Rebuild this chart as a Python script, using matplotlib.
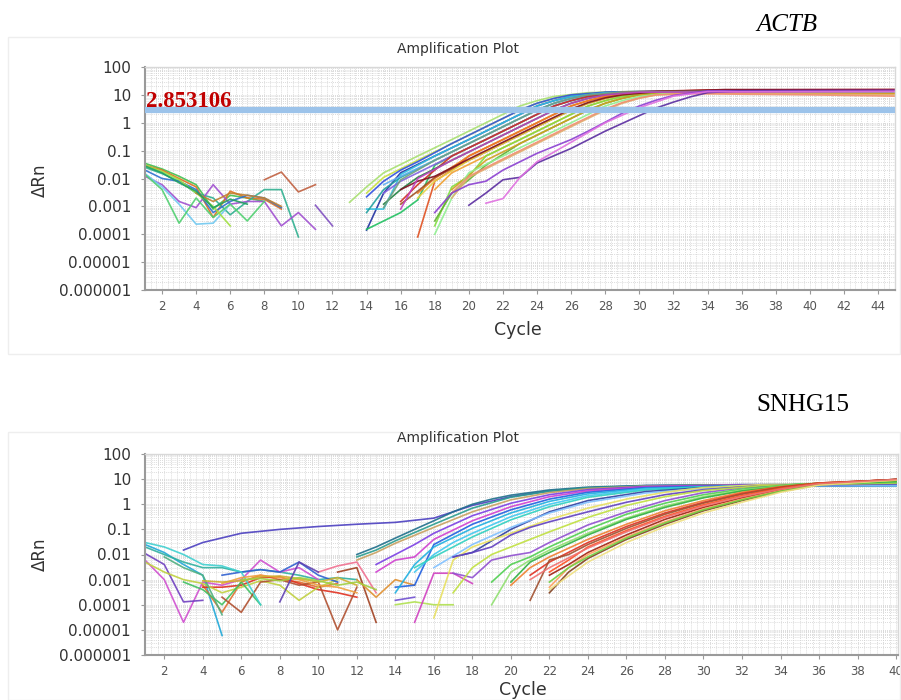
import matplotlib
matplotlib.use('Agg')
import matplotlib.pyplot as plt
from matplotlib.ticker import FixedLocator, NullFormatter
from matplotlib.patches import Rectangle
import numpy as np

# ---- data ----
y_ticks = [1e-6, 1e-5, 1e-4, 1e-3, 1e-2, 1e-1, 1, 10, 100]
y_tick_labels = ['0.000001', '0.00001', '0.0001', '0.001', '0.01', '0.1', '1', '10', '100']
actb_x_ticks = list(range(2, 46, 2))
snhg_x_ticks = list(range(2, 41, 2))
actb_threshold = 2.853106

# ACTB: rising curves, (cycle, dRn) points
actb_growth = [
    [(13, .0014), (14, .005), (15, .016), (17, .064), (19, .25), (21, 1.0), (23, 4), (24, 6.2), (25, 8.8), (27, 12), (30, 13.5), (45, 14)],
    [(14, .003), (15, .011), (17, .045), (19, .18), (21, .72), (23, 2.85), (24, 5), (25, 7.5), (26, 10), (28, 12.5), (32, 13.5), (45, 13)],
    [(14, .0022), (15, .008), (16, .02), (17, .04), (19, .18), (21, .72), (23, 2.85), (24, 5), (25, 7.5), (26, 10), (28, 12.5), (32, 14), (45, 14)],
    [(14, .00014), (15, .003), (16, .016), (18, .064), (20, .25), (22, 1.0), (24, 4), (25, 6.2), (26, 8.8), (28, 12), (32, 13.5), (45, 13.5)],
    [(14, .0008), (15, .0008), (16, .014), (18, .064), (20, .25), (22, 1.0), (24, 4), (25, 6.2), (26, 8.8), (28, 12), (32, 13), (45, 13)],
    [(14, .0006), (15, .004), (16, .011), (18, .045), (20, .18), (22, .72), (24, 2.85), (25, 5), (26, 7.5), (27, 10), (29, 12.5), (33, 13.5), (45, 13)],
    [(15, .006), (16, .012), (18, .045), (20, .18), (22, .72), (24, 2.85), (25, 5), (26, 7.5), (27, 10), (29, 12.5), (33, 13), (45, 12.5)],
    [(14, .00015), (16, .0006), (17, .0017), (18, .03), (19, .064), (21, .25), (23, 1.0), (25, 4), (26, 6.2), (27, 8.8), (29, 12), (33, 13.5), (45, 13.5)],
    [(15, .003), (16, .008), (17, .016), (19, .064), (21, .25), (23, 1.0), (25, 4), (26, 6.2), (27, 8.8), (29, 12), (33, 13), (45, 13)],
    [(16, .0015), (17, .006), (18, .02), (19, .064), (21, .25), (23, 1.0), (25, 4), (26, 6.2), (27, 8.8), (29, 12.5), (34, 15), (45, 15.5)],
    [(15, .0012), (16, .004), (17, .011), (19, .045), (21, .18), (23, .72), (25, 2.85), (26, 5), (27, 7.5), (28, 10), (30, 12.5), (34, 14), (45, 14)],
    [(17, .00008), (18, .008), (19, .02), (20, .064), (22, .25), (24, 1.0), (26, 4), (27, 6.2), (28, 8.8), (30, 12), (34, 14), (45, 14.5)],
    [(17, .003), (18, .01), (20, .064), (22, .25), (24, 1.0), (26, 4), (27, 6.2), (28, 8.8), (30, 12), (34, 13), (45, 12.5)],
    [(16, .0012), (17, .0035), (18, .011), (20, .045), (22, .18), (24, .72), (26, 2.85), (27, 5), (28, 7.5), (29, 10), (31, 12.5), (35, 14), (45, 14)],
    [(17, .002), (18, .008), (20, .045), (22, .18), (24, .72), (26, 2.85), (27, 5), (28, 7.5), (29, 10), (31, 12), (35, 12), (45, 11.5)],
    [(18, .004), (19, .016), (21, .064), (23, .25), (25, 1.0), (27, 4), (28, 6.2), (29, 8.8), (31, 11.5), (35, 12), (45, 11)],
    [(18, .0002), (19, .005), (20, .012), (21, .064), (23, .25), (25, 1.0), (27, 4), (28, 6.2), (29, 8.8), (31, 12), (35, 13), (45, 13)],
    [(18, .0003), (19, .003), (20, .009), (21, .03), (23, .18), (25, .72), (27, 2.85), (28, 5), (29, 7.5), (30, 10), (32, 12.5), (36, 13.5), (45, 13.5)],
    [(19, .004), (21, .045), (23, .18), (25, .72), (27, 2.85), (28, 5), (29, 7.5), (30, 10), (32, 12), (36, 12), (45, 11)],
    [(18, .0001), (19, .002), (20, .016), (22, .064), (24, .25), (26, 1.0), (28, 4), (29, 6.2), (30, 8.8), (32, 12), (36, 13), (45, 12.5)],
    [(19, .002), (20, .011), (22, .045), (24, .18), (26, .72), (28, 2.85), (29, 5), (30, 7.5), (31, 10), (33, 11.5), (38, 11), (45, 10)],
    [(19, .003), (20, .012), (22, .05), (24, .2), (26, .8), (28, 3.1), (29, 5.3), (30, 7.8), (31, 10), (33, 11), (40, 10), (45, 9)],
    [(16, .004), (17, .008), (18, .012), (20, .05), (22, .2), (24, .8), (26, 3.1), (27, 5.3), (28, 7.8), (29, 10), (31, 13), (35, 15.5), (45, 15.5)],
    [(15, .0009), (16, .009), (18, .045), (20, .18), (22, .72), (24, 2.85), (25, 5), (26, 7.5), (27, 10), (29, 12.5), (34, 13.5), (45, 13.5)],
    [(16, .0008), (17, .01), (19, .045), (21, .18), (23, .72), (25, 2.85), (26, 5), (27, 7.5), (28, 10), (30, 12.5), (45, 13)],
    [(18, .0006), (19, .003), (20, .006), (21, .008), (22, .02), (24, .08), (26, .25), (27, .5), (29, 2.2), (30, 4), (31, 6.5), (32, 9.5), (34, 14), (45, 14.5)],
    [(20, .0011), (21, .003), (22, .009), (23, .011), (24, .036), (26, .12), (28, .5), (30, 1.8), (31, 3.4), (32, 5.5), (33, 8.5), (34, 12), (36, 14), (45, 14)],
    [(21, .0013), (22, .0019), (23, .011), (24, .04), (26, .2), (28, 1.0), (30, 3.5), (32, 9), (34, 13), (45, 13.5)],
]
actb_growth_colors = ['#a8e070', '#c8e040', '#3050e0', '#2030a0', '#30c0e0', '#20a0a0', '#60b0f0',
                      '#20c060', '#8060e0', '#d03020', '#208040', '#e05020', '#f08020', '#a05020',
                      '#e8d040', '#f0a030', '#80e040', '#60b030', '#d0a020', '#90f090', '#e0b070',
                      '#f09070', '#801020', '#70a080', '#c040c0', '#8a3fd1', '#5a2ca0', '#e070e0']

# ACTB: baseline fragments
actb_noise = [
    [(1, .035), (2, .022), (3, .012), (4, .006), (5, .0008), (6, .0025), (7, .002), (8, .0015)],
    [(1, .03), (2, .02), (3, .01), (4, .005), (5, .0004), (6, .0035), (7, .002), (8, .0018), (9, .0008)],
    [(1, .025), (2, .015), (3, .008), (4, .003), (5, .002), (6, .0005), (7, .0015), (8, .004), (9, .004), (10, .00008)],
    [(1, .012), (2, .006), (3, .0015), (4, .0009), (5, .006), (6, .0012), (7, .0015), (8, .0015), (9, .0002), (10, .0006), (11, .00015)],
    [(1, .015), (2, .005), (3, .0012), (4, .00023), (5, .00025), (6, .0012)],
    [(1, .014), (2, .004), (3, .00025), (4, .002), (5, .0004), (6, .0012), (7, .0003), (8, .0015)],
    [(8, .009), (9, .017), (10, .0033), (11, .006)],
    [(11, .0011), (12, .0002)],
    [(1, .02), (2, .01), (3, .008), (4, .004), (5, .0006), (6, .0015), (7, .0025), (8, .002), (9, .0009)],
    [(1, .03), (2, .018), (3, .009), (4, .003), (5, .001), (6, .0002)],
    [(4, .003), (5, .0015), (6, .003), (7, .0025), (8, .002), (9, .001)],
    [(1, .028), (2, .016), (3, .007), (4, .0035), (5, .0009), (6, .0018), (7, .0012)],
]
actb_noise_colors = ['#40c050', '#e07020', '#30b090', '#a050d0', '#70c8f0', '#50d070',
                     '#c06040', '#8050c0', '#3070d0', '#a0e040', '#c08030', '#20a060']

# SNHG15: rising curves
snhg_growth = [
    [(3, .015), (4, .03), (6, .07), (8, .1), (10, .13), (12, .16), (14, .19), (16, .28), (17, .5), (18, .9), (20, 2.0), (22, 3.4), (24, 4.5), (27, 5.5), (32, 6), (40, 6.2)],
    [(12, .01), (13, .02), (14, .045), (15, .1), (16, .22), (17, .5), (18, 1.0), (19, 1.6), (20, 2.3), (22, 3.7), (24, 4.8), (27, 5.6), (32, 6), (40, 6)],
    [(12, .008), (13, .015), (14, .035), (16, .16), (18, .7), (20, 1.9), (22, 3.3), (24, 4.5), (27, 5.4), (32, 5.8), (40, 5.8)],
    [(12, .006), (13, .012), (14, .028), (16, .12), (18, .5), (20, 1.5), (22, 2.9), (24, 4.2), (27, 5.3), (32, 5.9), (40, 6)],
    [(13, .004), (14, .01), (15, .025), (16, .07), (18, .35), (20, 1.1), (22, 2.4), (24, 3.8), (27, 5.1), (32, 5.8), (40, 6)],
    [(13, .002), (14, .006), (15, .008), (16, .04), (18, .22), (20, .8), (22, 2.0), (24, 3.4), (27, 4.9), (32, 5.7), (40, 5.9)],
    [(14, .0005), (15, .0006), (16, .025), (18, .16), (20, .6), (22, 1.6), (24, 3), (27, 4.6), (32, 5.6), (40, 5.8)],
    [(14, .0003), (15, .004), (16, .02), (18, .11), (20, .45), (22, 1.3), (24, 2.6), (27, 4.3), (32, 5.4), (40, 5.6)],
    [(15, .002), (16, .01), (17, .03), (18, .07), (20, .32), (22, 1.0), (24, 2.2), (27, 4), (32, 5.3), (40, 5.5)],
    [(15, .003), (16, .008), (18, .05), (20, .24), (22, .8), (24, 1.9), (27, 3.7), (30, 4.9), (34, 5.5), (40, 5.6)],
    [(17, .008), (18, .012), (19, .035), (20, .1), (22, .5), (24, 1.4), (27, 3.2), (30, 4.6), (34, 5.4), (40, 5.6)],
    [(16, .003), (18, .025), (20, .12), (22, .45), (24, 1.2), (27, 2.8), (30, 4.3), (34, 5.5), (40, 5.6)],
    [(16, .00003), (17, .006), (18, .02), (20, .07), (22, .25), (24, .7), (26, 1.6), (28, 3), (30, 4.6), (33, 6), (40, 6.8)],
    [(17, .0018), (18, .0012), (19, .006), (20, .009), (21, .012), (22, .03), (24, .15), (26, .5), (28, 1.4), (30, 2.9), (32, 4.5), (35, 6.2), (40, 7)],
    [(17, .008), (18, .012), (19, .02), (20, .06), (21, .12), (22, .2), (24, .5), (26, 1.2), (28, 2.4), (30, 3.8), (33, 5.5), (40, 6.5)],
    [(17, .0003), (18, .003), (19, .01), (20, .02), (22, .08), (24, .3), (26, .9), (28, 2), (30, 3.5), (33, 5.5), (40, 7)],
    [(19, .0008), (20, .004), (21, .008), (22, .02), (24, .1), (26, .4), (28, 1.1), (30, 2.4), (32, 4), (35, 6.5), (40, 7.5)],
    [(19, .0001), (20, .002), (21, .006), (22, .015), (24, .07), (26, .28), (28, .85), (30, 2), (32, 3.6), (35, 6.2), (40, 7.8)],
    [(20, .0008), (21, .005), (22, .012), (24, .06), (26, .25), (28, .75), (30, 1.8), (32, 3.4), (35, 6), (40, 8)],
    [(20, .0006), (21, .003), (22, .008), (24, .04), (26, .16), (28, .55), (30, 1.4), (32, 3), (34, 5), (36, 7), (40, 9)],
    [(21, .0015), (22, .005), (24, .03), (26, .13), (28, .45), (30, 1.2), (32, 2.7), (34, 4.8), (36, 7), (40, 9.5)],
    [(21, .00015), (22, .006), (23, .01), (24, .025), (26, .11), (28, .4), (30, 1.1), (32, 2.5), (34, 4.6), (36, 7), (40, 9.5)],
    [(22, .002), (23, .006), (24, .02), (26, .09), (28, .33), (30, .95), (32, 2.2), (34, 4.3), (36, 6.8), (40, 9.7)],
    [(22, .0015), (23, .004), (24, .012), (26, .06), (28, .25), (30, .75), (32, 1.8), (34, 3.8), (36, 6.5), (40, 9.8)],
    [(22, .0005), (23, .003), (24, .01), (26, .05), (28, .2), (30, .65), (32, 1.6), (34, 3.5), (36, 6.3), (40, 9.5)],
    [(22, .0003), (23, .002), (24, .007), (26, .04), (28, .16), (30, .55), (32, 1.4), (34, 3.2), (36, 6), (40, 9.8)],
    [(22, .0008), (23, .003), (24, .008), (26, .045), (28, .18), (30, .6), (32, 1.5), (34, 3.3), (36, 6), (40, 9)],
    [(22, .0004), (24, .005), (26, .03), (28, .13), (30, .45), (32, 1.2), (34, 3), (36, 5.8), (40, 9.2)],
    [(21, .001), (22, .003), (24, .018), (26, .08), (28, .3), (30, .85), (32, 2), (34, 4), (36, 6.6), (40, 9.6)],
]
snhg_growth_colors = ['#4b3fc0', '#1f6f8b', '#2a9d8f', '#c8a060', '#7b3fe4', '#d040d0', '#2060e0',
                      '#20b0e0', '#40c8f0', '#30d0c0', '#3040a0', '#80c0ff', '#e8e060', '#9050d0',
                      '#6040c0', '#c0e040', '#50d050', '#90e070', '#30b040', '#f08030', '#e03020',
                      '#a05030', '#ff5020', '#a02010', '#ffa060', '#804020', '#70d040', '#f0e080',
                      '#f07070']

# SNHG15: baseline fragments
snhg_noise = [
    [(1, .025), (2, .012), (3, .004), (4, .0015), (5, .000006)],
    [(1, .02), (2, .01), (3, .005), (4, .003), (5, .003), (6, .002), (7, .0025), (8, .002), (9, .0015), (10, .001), (11, .0012), (12, .001)],
    [(1, .006), (2, .001), (3, .00002), (4, .0008), (5, .0006), (6, .001), (7, .006), (8, .002), (9, .003), (10, .001)],
    [(1, .011), (2, .004), (3, .00013), (4, .00015)],
    [(4, .0006), (5, .00005), (6, .0008), (7, .0015), (8, .001), (9, .0008), (10, .0005), (11, .0007)],
    [(4, .0005), (5, .0005), (6, .0006), (7, .0012), (8, .0013), (9, .0007), (10, .0004), (11, .0003), (12, .0002)],
    [(1, .005), (2, .002), (3, .001), (4, .0007), (5, .0003), (6, .0005), (7, .0009), (8, .0006), (9, .00015), (10, .0005), (11, .001)],
    [(5, .0015), (6, .002), (7, .0025), (8, .002), (9, .005), (10, .0015), (11, .0008)],
    [(3, .0008), (4, .0004), (5, .0001), (6, .0008), (7, .0001)],
    [(5, .0002), (6, .00005), (7, .0008), (8, .001), (9, .0006), (10, .0008), (11, .00001), (12, .0005)],
    [(11, .002), (12, .003), (13, .00002)],
    [(12, .001), (13, .0002), (14, .001), (15, .0006)],
    [(10, .002), (11, .0035), (12, .005), (13, .0003)],
    [(14, .00015), (15, .0002)],
    [(14, .0001), (15, .00013), (16, .0001), (17, .0001)],
    [(15, .00002), (16, .0018), (17, .0018), (18, .0007)],
    [(1, .03), (2, .02), (3, .01), (4, .004), (5, .0035), (6, .002), (7, .0001)],
    [(2, .008), (3, .003), (4, .0015), (5, .00004)],
    [(5, .0007), (6, .0012), (7, .0015), (8, .0012), (9, .001), (10, .0006), (11, .0005), (12, .0003)],
    [(4, .0009), (5, .0008), (6, .0009), (7, .0013), (8, .0014), (9, .0011), (10, .0008), (11, .0012), (12, .0006)],
    [(6, .001), (7, .0011), (8, .0009), (9, .0012), (10, .0009), (11, .0006), (12, .0008), (13, .0004)],
    [(8, .00013), (9, .005), (10, .002)],
]
snhg_noise_colors = ['#20a8d8', '#30b0a0', '#d050d0', '#7040c0', '#e07030', '#e03020', '#c0d040',
                     '#3060d0', '#40c060', '#b05030', '#a04020', '#e09030', '#f07090', '#7050d0',
                     '#b0e050', '#d040c0', '#40d0d0', '#50b080', '#f0a040', '#d0b030', '#a0d040',
                     '#6040b0']


def draw_panel(ax, groups, xmax, xticks):
    for curves, colors in groups:
        for pts, col in zip(curves, colors):
            xs = [p[0] for p in pts]
            ys = [p[1] for p in pts]
            ax.plot(xs, ys, color=col, lw=1.2, alpha=0.9, solid_joinstyle='round')

    ax.set_yscale('log')
    ax.set_ylim(1e-6, 100)
    ax.set_xlim(1, xmax)

    ax.yaxis.set_major_locator(FixedLocator(y_ticks))
    ax.set_yticklabels(y_tick_labels)
    minor_y = [m * d for d in y_ticks[:-1] for m in range(2, 10)]
    ax.yaxis.set_minor_locator(FixedLocator(minor_y))
    ax.yaxis.set_minor_formatter(NullFormatter())

    ax.xaxis.set_major_locator(FixedLocator(xticks))
    ax.xaxis.set_minor_locator(FixedLocator(np.arange(1, xmax + 0.01, 1 / 3)))

    ax.grid(True, which='both', color='#cfcfcf', lw=0.6, linestyle=(0, (1, 1.5)))
    ax.set_axisbelow(True)

    ax.tick_params(axis='y', which='major', labelsize=11, length=3, color='#999999',
                   labelcolor='#333333', pad=7)
    ax.tick_params(axis='x', which='major', labelsize=8.5, length=3, color='#999999',
                   labelcolor='#555555', pad=4)
    ax.tick_params(which='minor', length=0)
    for s in ['left', 'bottom']:
        ax.spines[s].set_color('#9a9a9a')
        ax.spines[s].set_linewidth(1.5)
    for s in ['top', 'right']:
        ax.spines[s].set_color('#d8d8d8')
        ax.spines[s].set_linewidth(1.0)


fig = plt.figure(figsize=(9.01, 7.0), dpi=100)
fig.patch.set_facecolor('white')

# faint panel frames
fig.patches.append(Rectangle((8 / 901, 1 - 354 / 700), 892 / 901, 317 / 700, transform=fig.transFigure,
                             fill=False, edgecolor='#eeeeee', lw=1))
fig.patches.append(Rectangle((8 / 901, 0.0), 892 / 901, 268 / 700, transform=fig.transFigure,
                             fill=False, edgecolor='#eeeeee', lw=1))

ax1 = fig.add_axes([145 / 901, 1 - 290 / 700, 750 / 901, 223 / 700])
draw_panel(ax1, [(actb_noise, actb_noise_colors), (actb_growth, actb_growth_colors)], 45, actb_x_ticks)
ax1.axhline(actb_threshold, color='#9cc3ea', lw=4.5, zorder=5)
ax1.text(1.06, 5.6, '%.6f' % actb_threshold, color='#c00000', fontsize=16.5, fontweight='bold',
         family='Liberation Serif', ha='left', va='center', zorder=6)

ax2 = fig.add_axes([145 / 901, 1 - 655 / 700, 753 / 901, 201 / 700])
draw_panel(ax2, [(snhg_noise, snhg_noise_colors), (snhg_growth, snhg_growth_colors)], 40.1, snhg_x_ticks)

# titles and labels
fig.text(787 / 901, 1 - 25 / 700, 'ACTB', fontsize=18, style='italic', family='Liberation Serif',
         ha='center', va='center')
fig.text(803 / 901, 1 - 405 / 700, 'SNHG15', fontsize=18, family='Liberation Serif',
         ha='center', va='center')
for yy in [49, 438]:
    fig.text(458 / 901, 1 - yy / 700, 'Amplification Plot', fontsize=10, color='#333333',
             ha='center', va='center')
for yy in [180, 554]:
    fig.text(40 / 901, 1 - yy / 700, 'ΔRn', fontsize=12, color='#333333', rotation=90,
             ha='center', va='center')
fig.text(518 / 901, 1 - 330 / 700, 'Cycle', fontsize=12.5, color='#333333', ha='center', va='center')
fig.text(523 / 901, 1 - 690 / 700, 'Cycle', fontsize=12.5, color='#333333', ha='center', va='center')

fig.savefig('out.png', dpi=100, facecolor='white')
